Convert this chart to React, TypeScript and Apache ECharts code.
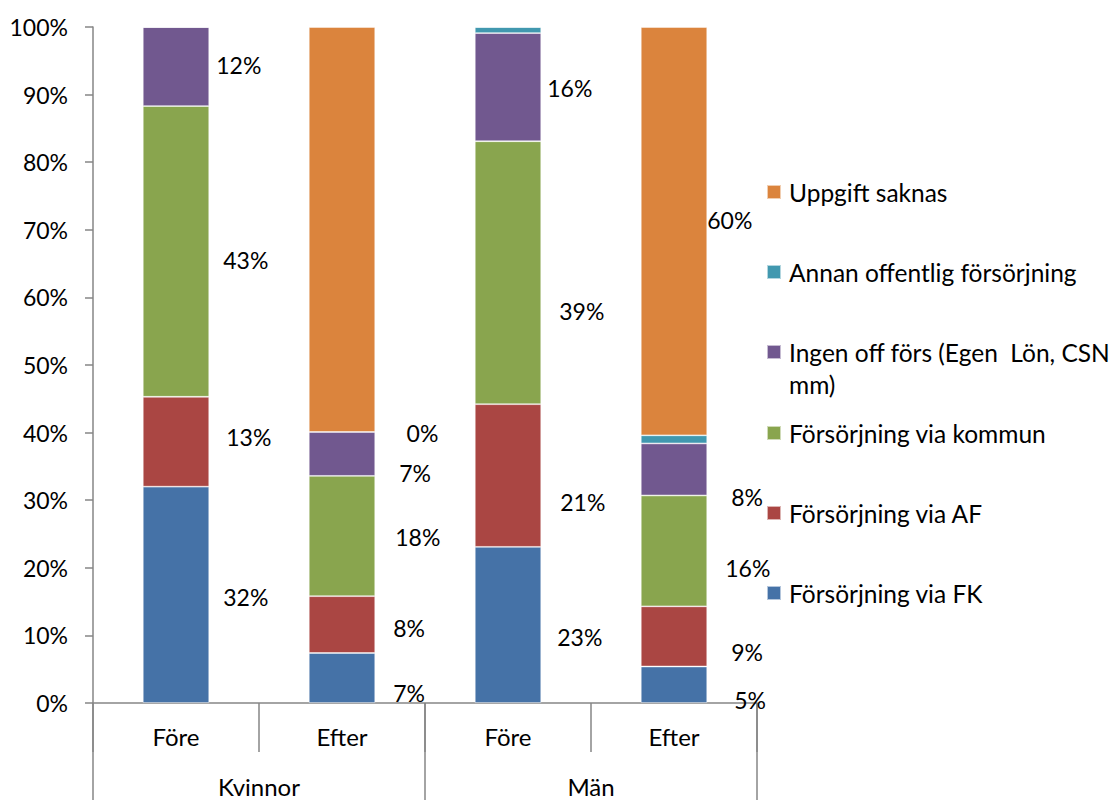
import React, { useEffect, useRef } from "react";
import * as echarts from "echarts";

// ---- data ----
const categories = ["Före", "Efter", "Före", "Efter"];
const groups = ["Kvinnor", "Män"];
const seriesNames = [
  "Försörjning via FK",
  "Försörjning via AF",
  "Försörjning via kommun",
  "Ingen off förs (Egen  Lön, CSN mm)",
  "Annan offentlig försörjning",
  "Uppgift saknas",
];
const viaFK = [32.0, 7.4, 23.1, 5.4];
const viaAF = [13.3, 8.4, 21.1, 8.9];
const viaKommun = [43.0, 17.8, 38.9, 16.4];
const ingenOff = [11.7, 6.5, 16.0, 7.7];
const annanOff = [0, 0, 0.9, 1.2];
const uppgiftSaknas = [0, 59.9, 0, 60.4];
const yTicks = [0, 10, 20, 30, 40, 50, 60, 70, 80, 90, 100];

// labels shown in the reference (per series, per bar)
const labelShown = [
  [true, true, true, true],
  [true, true, true, true],
  [true, true, true, true],
  [true, true, true, true],
  [false, true, false, false],
  [false, false, false, true],
];

// ---- styling ----
const COLORS = ["#4572A7", "#AA4643", "#89A54E", "#71588F", "#4198AF", "#DB843D"];
const FONT = "Lato";
const FS = 23;
const FS_TEXT = 24.5;
const GREY = "#868686";
const LEG_LH = 32;
// hand-placed label offsets [dx from bar right edge, dy from segment centre]
const labelOffsets = [
  [[14, 2], [18, 15], [16, 12], [27, 15]],
  [[17, -5], [18, 3], [19, 26], [24, 16]],
  [[14, 9], [20, 1], [18, 38], [18, 17]],
  [[7, -2], [24, 19], [6, 1], [24, 28]],
  [[0, 0], [31, 1], [0, 0], [0, 0]],
  [[0, 0], [0, 0], [0, 0], [0, -11]],
];
const legendIconCenters = [593, 513, 433, 352, 272, 192];

export default function App() {
  const ref = useRef<HTMLDivElement>(null);
  useEffect(() => {
    if (!ref.current) return;
    const chart = echarts.init(ref.current, undefined, { renderer: "svg" });
    const values = [viaFK, viaAF, viaKommun, ingenOff, annanOff, uppgiftSaknas];

    const series = seriesNames.map((name, s) => ({
      name,
      type: "bar",
      stack: "total",
      barWidth: "40%",
      xAxisIndex: 0,
      itemStyle: { color: COLORS[s], borderColor: "rgba(255,255,255,0.6)", borderWidth: 0.8 },
      label: {
        position: "right",
        distance: 0,
        color: "#000",
        fontFamily: FONT,
        fontSize: FS,
        formatter: (p: any) => Math.round(p.value) + "%",
      },
      data: values[s].map((v, i) => ({
        value: v,
        label: { show: labelShown[s][i], offset: labelOffsets[s][i] },
      })),
    }));

    const legends = seriesNames.map((name, s) => {
      const twoLine = s === 3;
      return {
        left: 766,
        top: twoLine ? legendIconCenters[s] - 1.5 * LEG_LH : legendIconCenters[s] - LEG_LH / 2,
        padding: 0,
        itemWidth: 14,
        itemHeight: 14,
        icon: "rect",
        data: [name],
        selectedMode: false,
        formatter: twoLine ? () => " \nIngen off förs (Egen  Lön, CSN\nmm)" : undefined,
        textStyle: {
          color: "#000",
          fontFamily: FONT,
          fontSize: FS_TEXT,
          lineHeight: LEG_LH,
          padding: [0, 0, 0, 3],
        },
      };
    });

    chart.setOption({
      animation: false,
      color: COLORS,
      textStyle: { fontFamily: FONT },
      grid: { left: 93, top: 27, width: 664, height: 676, containLabel: false },
      legend: legends,
      xAxis: [
        {
          type: "category",
          data: categories,
          position: "bottom",
          axisLine: { show: true, lineStyle: { color: GREY, width: 1.5 } },
          axisTick: { show: true, interval: 0, length: 49, lineStyle: { color: GREY, width: 1.5 } },
          axisLabel: { interval: 0, margin: 21, color: "#000", fontFamily: FONT, fontSize: 24 },
        },
        {
          type: "category",
          data: groups,
          position: "bottom",
          offset: 0,
          axisLine: { show: false },
          axisTick: { show: true, interval: 0, length: 97, lineStyle: { color: GREY, width: 1.5 } },
          axisLabel: { interval: 0, margin: 71, color: "#000", fontFamily: FONT, fontSize: 24 },
        },
      ],
      yAxis: {
        type: "value",
        min: yTicks[0],
        max: yTicks[yTicks.length - 1],
        interval: yTicks[1] - yTicks[0],
        axisLine: { show: true, lineStyle: { color: GREY, width: 1.5 } },
        axisTick: { show: true, length: 8, lineStyle: { color: GREY, width: 1.5 } },
        splitLine: { show: false },
        axisLabel: {
          margin: 25,
          color: "#000",
          fontFamily: FONT,
          fontSize: FS,
          formatter: "{value}%",
        },
      },
      series,
    });
    return () => chart.dispose();
  }, []);
  return (
    <div
      ref={ref}
      style={{ position: "absolute", left: 0, top: 0, width: 1110, height: 803, background: "#fff" }}
    />
  );
}
